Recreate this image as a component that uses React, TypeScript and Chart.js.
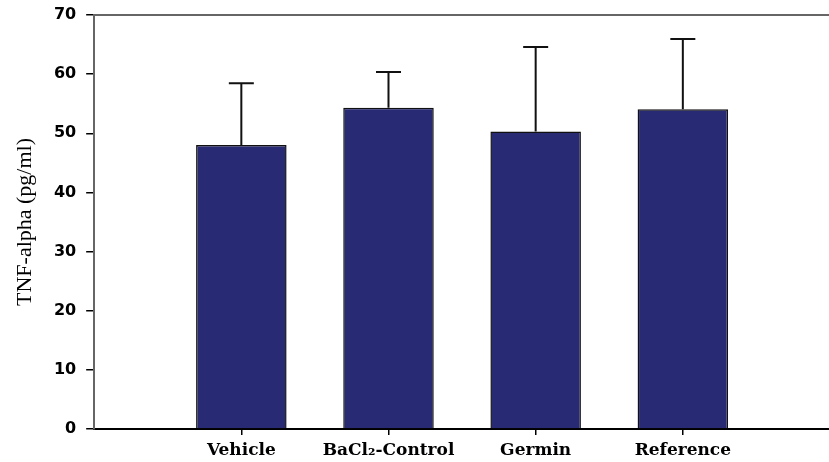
import React, { useEffect, useRef } from "react";
import { Chart, registerables } from "chart.js";

Chart.register(...registerables);

const categories = ["", "Vehicle", "BaCl₂-Control", "Germin", "Reference", ""];
const means = [null, 48.0, 54.3, 50.3, 54.05, null];
const errorTops = [null, 58.45, 60.35, 64.6, 65.95, null];
const yTickValues = [0, 10, 20, 30, 40, 50, 60, 70];
const yTitle = "TNF-alpha (pg/ml)";

const errorBarPlugin = {
  id: "errorBars",
  afterDatasetsDraw(chart: any) {
    const meta = chart.getDatasetMeta(0);
    const yScale = chart.scales.y;
    const ctx = chart.ctx;
    ctx.save();
    ctx.strokeStyle = "#111";
    ctx.lineWidth = 2;
    errorTops.forEach((top, i) => {
      const m = means[i];
      if (top == null || m == null) return;
      const bar = meta.data[i];
      const x = bar.x;
      const yT = yScale.getPixelForValue(top);
      const yB = yScale.getPixelForValue(m);
      ctx.beginPath();
      ctx.moveTo(x, yB);
      ctx.lineTo(x, yT);
      ctx.moveTo(x - 12.5, yT);
      ctx.lineTo(x + 12.5, yT);
      ctx.stroke();
    });
    ctx.restore();
  },
};

const topBorderPlugin = {
  id: "topBorder",
  afterDraw(chart: any) {
    const { ctx, chartArea } = chart;
    ctx.save();
    ctx.strokeStyle = "#666";
    ctx.lineWidth = 2;
    ctx.beginPath();
    ctx.moveTo(chartArea.left, chartArea.top);
    ctx.lineTo(chartArea.right, chartArea.top);
    ctx.stroke();
    ctx.restore();
  },
};

export default function App() {
  const ref = useRef<HTMLCanvasElement | null>(null);
  useEffect(() => {
    if (!ref.current) return;
    const chart = new Chart(ref.current, {
      type: "bar",
      data: {
        labels: categories,
        datasets: [
          {
            data: means as any,
            backgroundColor: "#282a73",
            borderColor: "#111",
            borderWidth: 1.5,
            borderSkipped: "bottom",
            barPercentage: 1,
            categoryPercentage: 0.615,
          },
        ],
      },
      options: {
        animation: false,
        responsive: true,
        maintainAspectRatio: false,
        layout: { padding: { left: 12.5, top: 15, right: 0, bottom: 0 } },
        plugins: { legend: { display: false }, tooltip: { enabled: false } },
        scales: {
          x: {
            offset: false,
            afterFit: (s: any) => {
              s.height = 33;
            },
            grid: {
              offset: false,
              drawOnChartArea: false,
              drawTicks: true,
              tickLength: 6,
              lineWidth: 1.5,
              color: (c: any) =>
                c.tick && categories[c.index] ? "#000" : "rgba(0,0,0,0)",
            },
            border: { color: "#000", width: 2 },
            ticks: {
              color: "#000",
              padding: 7,
              maxRotation: 0,
              autoSkip: false,
              font: { family: "DejaVu Serif", weight: "bold", size: 17, lineHeight: 1 },
            },
          },
          y: {
            min: 0,
            max: 70,
            afterFit: (s: any) => {
              s.paddingTop = 0;
              s.paddingBottom = 0;
            },
            afterBuildTicks: (s: any) => {
              s.ticks = yTickValues.map((v) => ({ value: v }));
            },
            grid: {
              drawOnChartArea: false,
              drawTicks: true,
              tickLength: 8,
              lineWidth: 1.5,
              color: "#000",
            },
            border: { color: "#666", width: 2 },
            ticks: {
              color: "#000",
              padding: 10,
              font: { family: "DejaVu Sans", weight: "bold", size: 16 },
            },
            title: {
              display: true,
              text: yTitle,
              color: "#000",
              padding: { top: 0, bottom: 5 },
              font: { family: "Liberation Serif", size: 22 },
            },
          },
        },
      },
      plugins: [errorBarPlugin, topBorderPlugin],
    });
    return () => chart.destroy();
  }, []);

  return (
    <div
      style={{
        position: "fixed",
        left: 0,
        top: 0,
        width: 829,
        height: 462,
        overflow: "hidden",
        background: "#fff",
      }}
    >
      <div style={{ width: 837, height: 462 }}>
        <canvas ref={ref} />
      </div>
    </div>
  );
}
